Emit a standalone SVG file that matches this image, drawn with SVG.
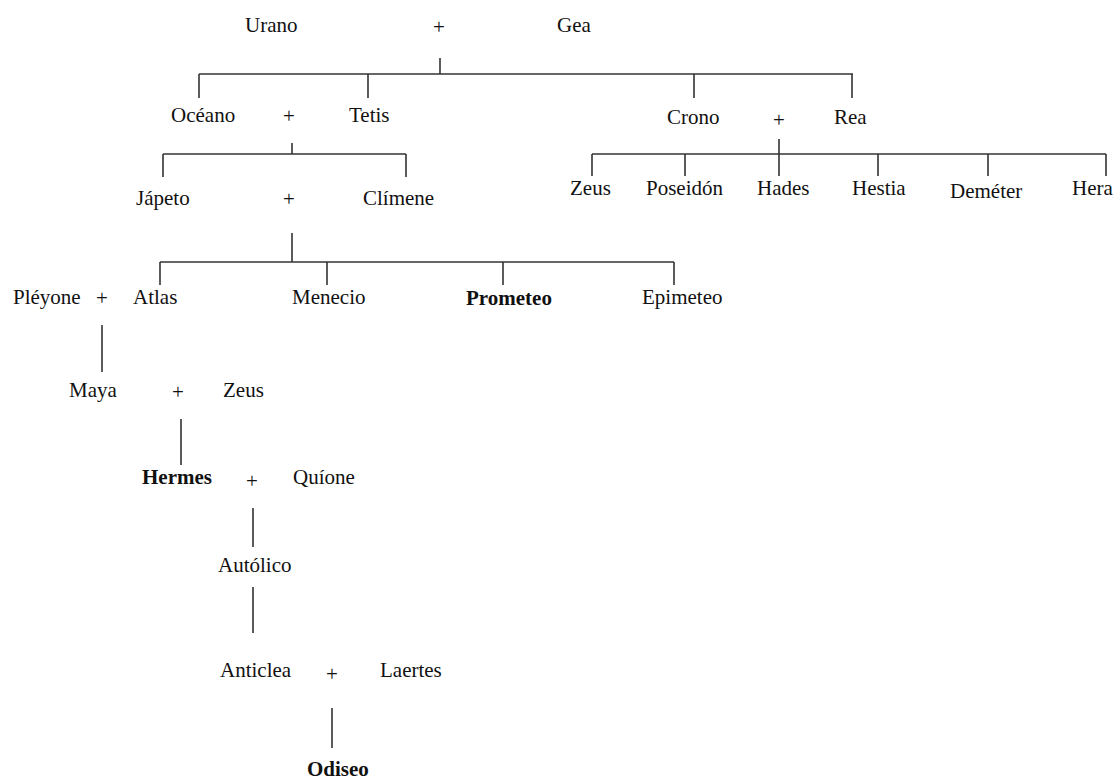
<svg xmlns="http://www.w3.org/2000/svg" width="1115" height="780" viewBox="0 0 1115 780">
<style>
text{font-family:"Liberation Serif","Times New Roman",serif;font-size:21px;fill:#111}
.b{font-weight:bold}
.p{text-anchor:middle}
#connectors line{stroke:#333;stroke-width:1.6}
</style>
<rect width="1115" height="780" fill="#fff"/>
<g id="connectors">
<line x1="440" y1="58" x2="440" y2="74"/>
<line x1="199" y1="74" x2="853" y2="74"/>
<line x1="199" y1="74" x2="199" y2="98"/>
<line x1="368" y1="74" x2="368" y2="98"/>
<line x1="694" y1="74" x2="694" y2="98"/>
<line x1="852" y1="74" x2="852" y2="98"/>
<line x1="292" y1="143" x2="292" y2="154"/>
<line x1="163" y1="154" x2="406" y2="154"/>
<line x1="163" y1="154" x2="163" y2="177"/>
<line x1="406" y1="154" x2="406" y2="177"/>
<line x1="779" y1="139" x2="779" y2="176"/>
<line x1="592" y1="154" x2="1106" y2="154"/>
<line x1="592" y1="154" x2="592" y2="176"/>
<line x1="685" y1="154" x2="685" y2="176"/>
<line x1="878" y1="154" x2="878" y2="176"/>
<line x1="988" y1="154" x2="988" y2="176"/>
<line x1="1106" y1="154" x2="1106" y2="176"/>
<line x1="292" y1="233" x2="292" y2="262"/>
<line x1="160" y1="262" x2="674" y2="262"/>
<line x1="160" y1="262" x2="160" y2="285"/>
<line x1="327" y1="262" x2="327" y2="285"/>
<line x1="503" y1="262" x2="503" y2="285"/>
<line x1="674" y1="262" x2="674" y2="285"/>
<line x1="102" y1="325" x2="102" y2="372"/>
<line x1="181" y1="419" x2="181" y2="465"/>
<line x1="253" y1="508" x2="253" y2="547"/>
<line x1="253" y1="587" x2="253" y2="633"/>
<line x1="332" y1="708" x2="332" y2="748"/>
</g>
<g id="urano"><text x="245" y="32">Urano</text></g>
<g id="u-plus"><text class="p" x="439" y="34">+</text></g>
<g id="gea"><text x="557" y="32">Gea</text></g>
<g id="oceano"><text x="171" y="122">Océano</text></g>
<g id="o-plus"><text class="p" x="289" y="123">+</text></g>
<g id="tetis"><text x="349" y="122">Tetis</text></g>
<g id="crono"><text x="667" y="124">Crono</text></g>
<g id="c-plus"><text class="p" x="779" y="127">+</text></g>
<g id="rea"><text x="834" y="124">Rea</text></g>
<g id="zeus1"><text x="570" y="195">Zeus</text></g>
<g id="poseidon"><text x="646" y="195">Poseidón</text></g>
<g id="hades"><text x="757" y="195">Hades</text></g>
<g id="hestia"><text x="852" y="195">Hestia</text></g>
<g id="demeter"><text x="950" y="198">Deméter</text></g>
<g id="hera"><text x="1072" y="195">Hera</text></g>
<g id="japeto"><text x="136" y="205">Jápeto</text></g>
<g id="j-plus"><text class="p" x="289" y="206">+</text></g>
<g id="climene"><text x="363" y="205">Clímene</text></g>
<g id="pleyone"><text x="13" y="304">Pléyone</text></g>
<g id="pl-plus"><text class="p" x="102" y="305">+</text></g>
<g id="atlas"><text x="133" y="304">Atlas</text></g>
<g id="menecio"><text x="292" y="304">Menecio</text></g>
<g id="prometeo"><text class="b" x="466" y="305">Prometeo</text></g>
<g id="epimeteo"><text x="642" y="304">Epimeteo</text></g>
<g id="maya"><text x="69" y="397">Maya</text></g>
<g id="m-plus"><text class="p" x="178" y="399">+</text></g>
<g id="zeus2"><text x="223" y="397">Zeus</text></g>
<g id="hermes"><text class="b" x="142" y="484">Hermes</text></g>
<g id="h-plus"><text class="p" x="252" y="488">+</text></g>
<g id="quione"><text x="293" y="484">Quíone</text></g>
<g id="autolico"><text x="218" y="572">Autólico</text></g>
<g id="anticlea"><text x="220" y="677">Anticlea</text></g>
<g id="a-plus"><text class="p" x="332" y="681">+</text></g>
<g id="laertes"><text x="380" y="677">Laertes</text></g>
<g id="odiseo"><text class="b" x="307" y="776">Odiseo</text></g>
</svg>
